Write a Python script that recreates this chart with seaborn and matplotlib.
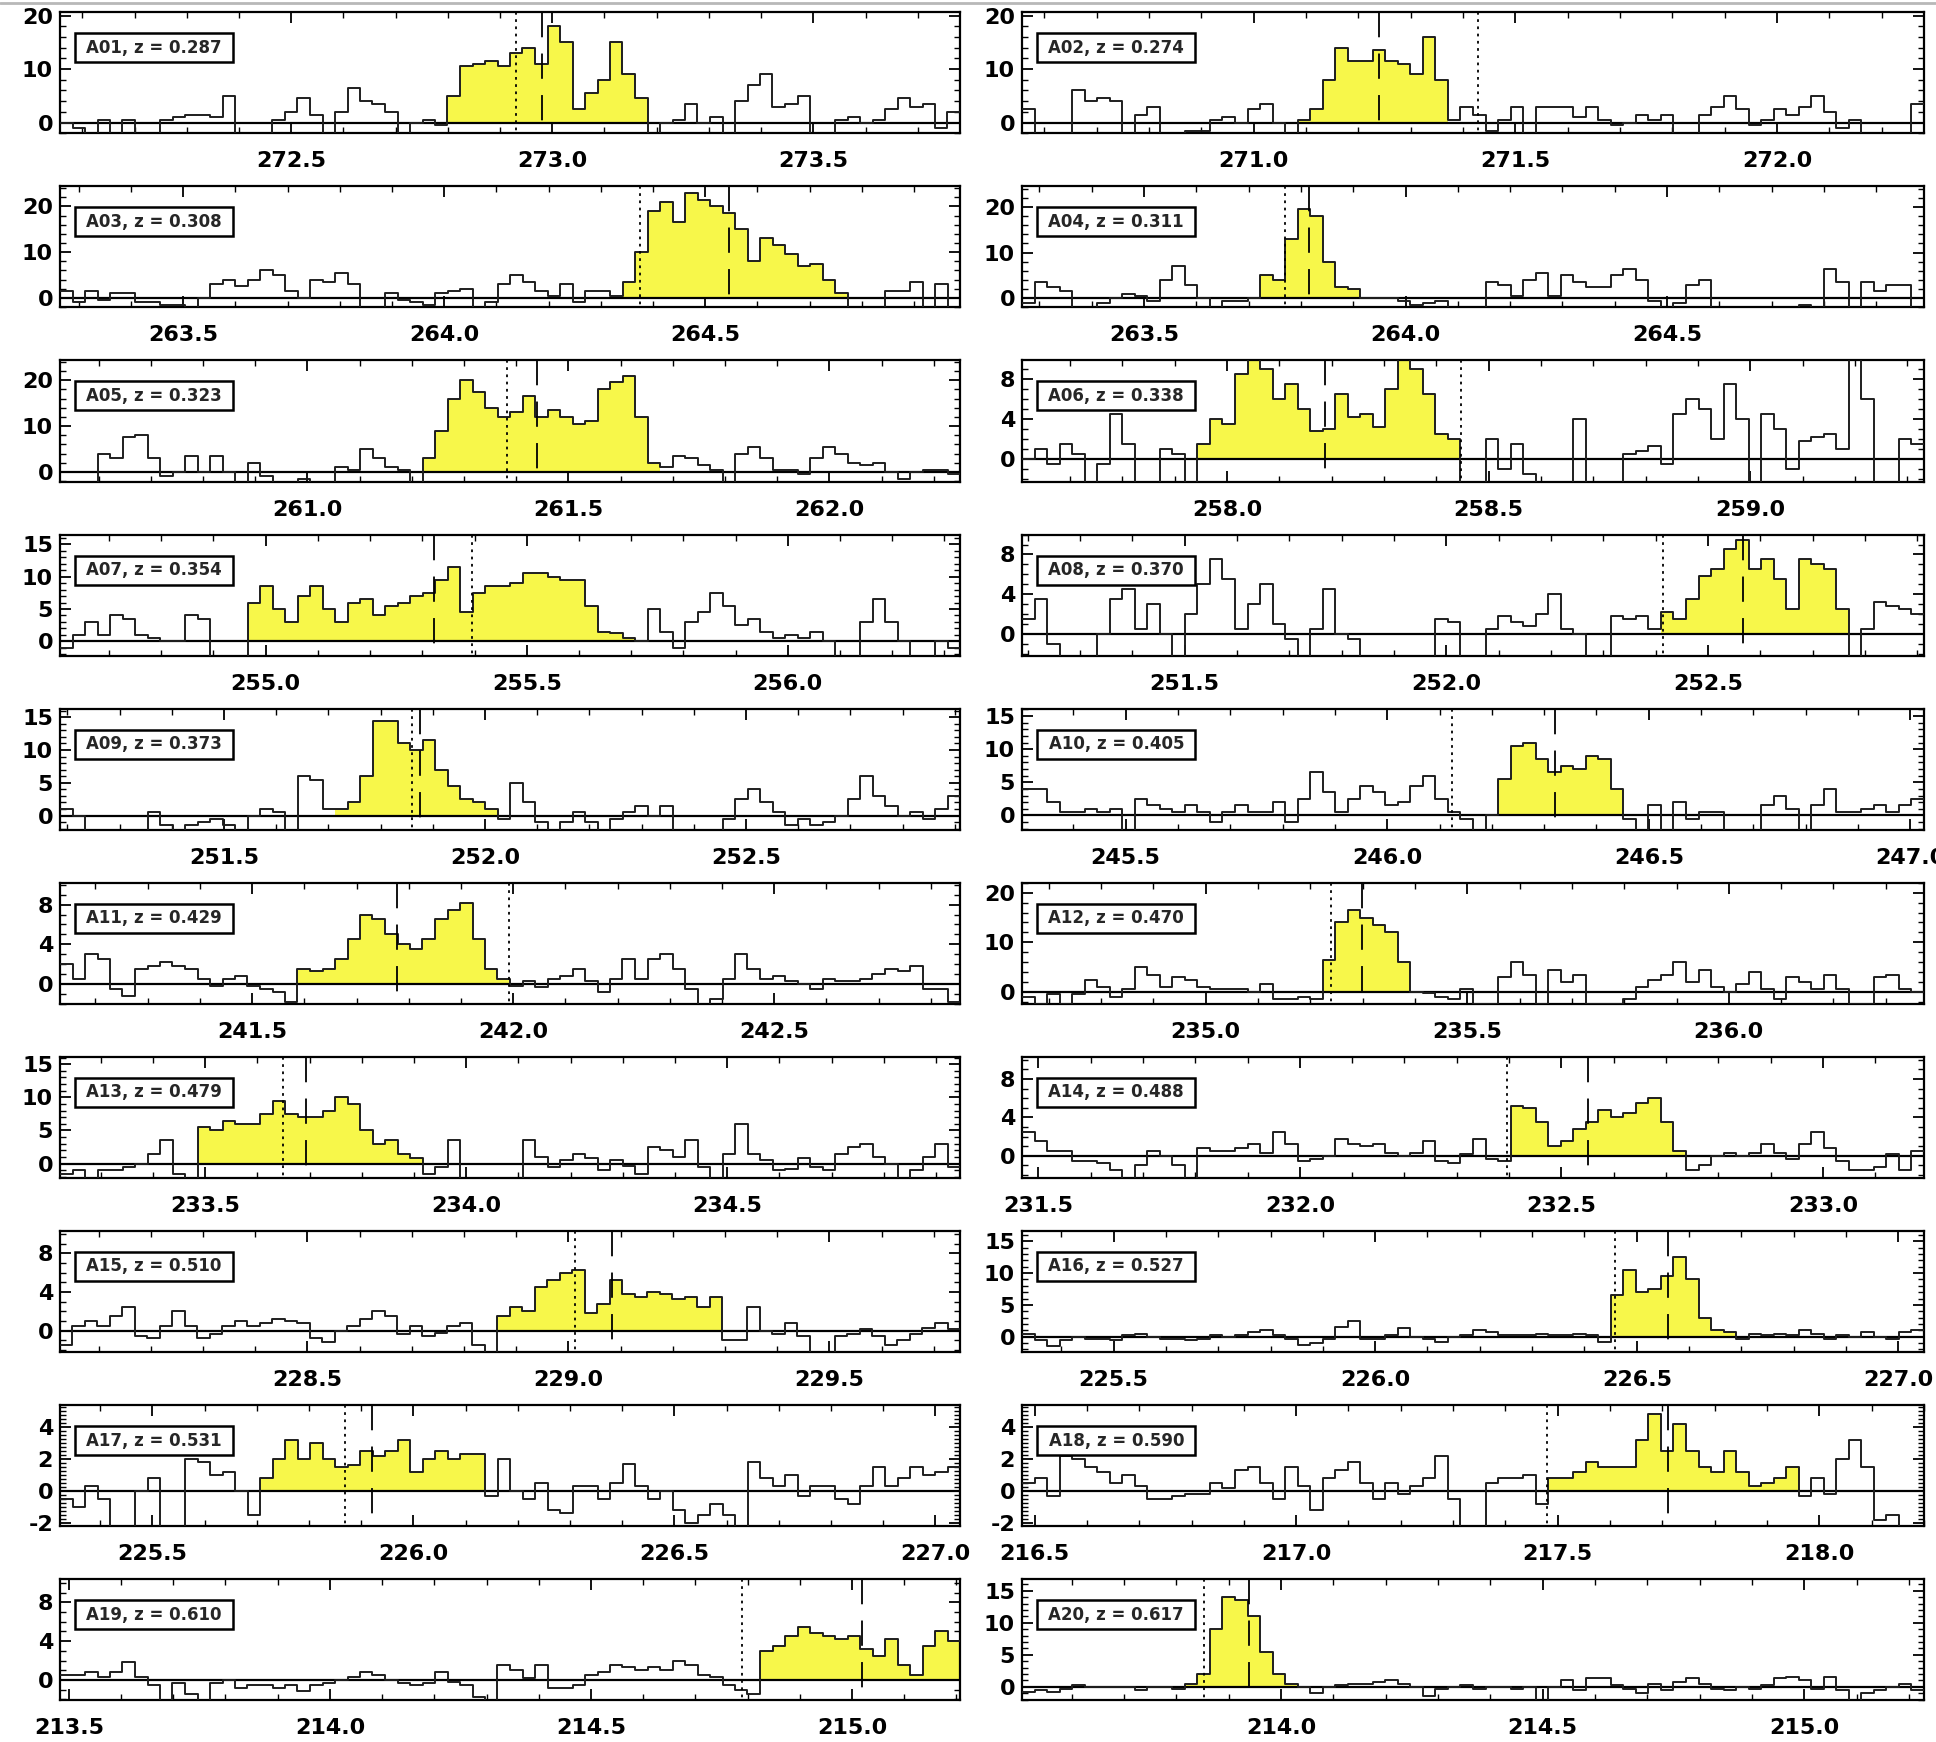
import numpy as np
import pandas as pd
import matplotlib
matplotlib.use("Agg")
import matplotlib.pyplot as plt
import seaborn as sns
from matplotlib.ticker import MultipleLocator, FormatStrFormatter
from matplotlib.patches import Rectangle
from matplotlib.lines import Line2D

sns.set_theme(style="ticks")
plt.rcParams["font.family"] = ["DejaVu Sans"]
plt.rcParams["font.weight"] = "bold"

# ---- source names and redshifts -------------------------------------------
names = ["A01", "A02", "A03", "A04", "A05", "A06", "A07", "A08", "A09", "A10",
         "A11", "A12", "A13", "A14", "A15", "A16", "A17", "A18", "A19", "A20"]
redshifts = [0.287, 0.274, 0.308, 0.311, 0.323, 0.338, 0.354, 0.370, 0.373, 0.405,
             0.429, 0.470, 0.479, 0.488, 0.510, 0.527, 0.531, 0.590, 0.610, 0.617]

# lower frequency edge of each spectrum (GHz); every spectrum covers the same band
freq_start = [272.057, 270.557, 263.264, 263.267, 260.526, 257.608, 254.606, 251.189,
              251.186, 245.302, 241.132, 234.649, 233.222, 231.469, 228.026, 225.325,
              225.323, 216.476, 213.483, 213.505]
band_width = 1.724

# expected line frequency (dotted) and fitted line centre (dashed), GHz
dotted_freq = [272.930, 271.428, 264.375, 263.770, 261.383, 258.447, 255.395, 252.414,
               251.860, 246.123, 241.992, 235.240, 233.650, 232.396, 229.013, 226.459,
               225.868, 217.480, 214.790, 213.853]
dashed_freq = [272.980, 271.240, 264.545, 263.815, 261.440, 258.187, 255.322, 252.568,
               251.875, 246.320, 241.778, 235.298, 233.694, 232.551, 229.083, 226.560,
               225.921, 217.711, 215.020, 213.938]

# channels (first, last) integrated over the line
line_channels = [(31, 46), (22, 33), (45, 62), (19, 26), (29, 47), (14, 34), (15, 45),
                 (51, 65), (22, 34), (38, 47), (19, 35), (24, 30), (11, 28), (39, 52),
                 (35, 52), (47, 56), (16, 33), (42, 61), (56, 71), (13, 22)]

# flux density per channel (mJy)
a01 = [0, -1, -2.5, 0.5, -2.5, 0.5, -2.5, -2.5, 0.5, 1, 1.5, 1.5, 1, 5, -2.5, -2.5, -2.5, 0.5,
       2, 4.5, 1.5, -2.5, 2, 6.5, 4, 3.5, 2, -2.5, 0, 0.5, -0.5, 5, 10.5, 11, 11.5, 10.5, 13,
       14, 11, 18, 15, 2.5, 5.5, 8, 15, 9, 4.5, -2.5, 0, 0.5, 3.5, 0, 1, -2.5, 4, 7, 9, 3, 3.5,
       5, -2.5, -2.5, 0.5, 1, 0, 0.5, 2.5, 4.5, 3, 3.5, -1, 2]
a02 = [2.5, -2.5, -2.5, -2.5, 6, 4, 4.5, 4, -2.5, 1.5, 3, -2.5, -2.5, -1.5, -1.5, 0.5, 1, 0,
       2.5, 3.5, 0, -2.5, 0.5, 2.5, 8, 14, 11.5, 11.5, 13.5, 11.5, 11, 9, 16, 8, 0.5, 3, 1.5,
       -1.5, 0.5, 3, -2.5, 3, 3, 3, 1, 3, 0.5, -0.5, 0, 1.5, 0.5, 1.5, -2.5, -2.5, 1.5, 3, 5,
       2.5, -0.5, 0.5, 2.5, 1.5, 3, 5, 2, -1, 0.5, -2.5, -2.5, -2.5, -2.5, 3.5]
a03 = [1.5, -1, 1.5, -0.5, 1, 1, -1, -1, -1.5, -1.5, -2.5, 0, 3, 4, 2.5, 4, 6, 5, 1.5, 0, 4,
       3.5, 5.5, 3, -2.5, -2.5, 1, -0.5, -1, -1.5, 1, 1.5, 2, -2.5, -1, 3, 5, 3.5, 1.5, 0.5, 3,
       -1, 1.5, 1.5, 0.5, 3.5, 10, 19, 21, 16.5, 23, 21.5, 20, 18.5, 15, 8, 13, 11.5, 9.5, 7,
       7.5, 4, 1, -2.5, -2.5, -2.5, 1.5, 1.5, 3.5, -2.5, 3, -2.5]
a04 = [-1, 3.5, 2.5, 1.5, -2.5, -2.5, -1, 0, 1, 0.5, -0.5, 4, 7, 3, 0, -2.5, -0.5, -0.5, 0, 5,
       4, 13, 19.5, 18, 8, 2.5, 2, 0, 0, 0, -0.5, -1.5, -1, -0.5, -2.5, -2.5, -2.5, 3.5, 3, 0.5,
       4, 5.5, 0.5, 5, 3.5, 2.5, 2.5, 5, 6.5, 4, -0.5, -2.5, -1, 3, 4, -2.5, -2.5, -2.5, -2.5,
       -2.5, -2.5, -2.5, -1.5, -2.5, 6.5, 3.5, -2.5, 3.5, 1.5, 3, 3, -2.5]
a05 = [-2.5, -2.5, -2.5, 4, 3, 7.5, 8, 3, -1, 0, 3.5, 0, 3.5, 0, -2.5, 2, -1, -2.5, -2.5,
       -1.5, -2.5, -2.5, 1, 0.5, 5, 3, 1, 0.5, -2.5, 3, 9, 16, 20, 17.5, 14, 12, 13, 16.5, 12,
       13.5, 12, 10.5, 11, 18, 19.5, 21, 12, 2, 1, 3.5, 3, 1.5, 0.5, -2.5, 4, 5.5, 3, 0.5, 0.5,
       -0.5, 3, 5.5, 4, 2, 1.5, 2, 0, -1.5, 0, 0.5, 0.5, -0.5]
a06 = [0, 1, -0.5, 1.5, 0.5, -2.5, -0.5, 4.5, 1.5, -2.5, -2.5, 1, 0.5, -2.5, 1.5, 4, 3.5, 8.5,
       10.5, 9, 6, 7.5, 5, 2.8, 3, 6.5, 4.2, 4.5, 3.2, 7, 10.5, 9, 6.5, 2.5, 2, -2.5, -2.5, 2,
       -1, 1.5, -1.5, -2.5, -2.5, -2.5, 4, -2.5, -2.5, -2.5, 0.5, 0.8, 1.3, -0.5, 4.5, 6, 5, 2,
       7.5, 4, -2.5, 4.5, 3, -1, 1.8, 2.2, 2.5, 1, 10.5, 6, -2.5, -2.5, 2, 1.5]
a07 = [-1, 1, 3, 1, 4, 3.5, 1, 0.5, 0, 0, 4, 3.5, -2.5, -2.5, -2.5, 6, 8.5, 5, 3, 7, 8.5, 5,
       3, 6, 6.5, 4, 5.5, 6, 7, 7.5, 9.5, 11.5, 4.5, 7.5, 8.5, 8.5, 9, 10.5, 10.5, 10, 9.5, 9.5,
       5.5, 1.5, 1.3, 0.5, 0, 5, 1.5, -1, 3, 4.5, 7.5, 5.5, 2.5, 3.5, 1.5, 0.5, 1, 0.5, 1.5, 0,
       -2.5, -2.5, 3, 6.5, 3, 0, -2.5, -2.5, 0, -1]
a08 = [1.5, 3.5, -1, -2.5, -2.5, -2.5, 0, 3.5, 4.5, 0.5, 3, 0, -2.5, 2, 5, 7.5, 5.5, 0.5, 3, 5,
       1, -0.5, -2.5, 0.5, 4.5, 0, -0.5, -2.5, -2.5, -2.5, -2.5, -2.5, -2.5, 1.5, 1.2, -2.5,
       -2.5, 0.5, 1.8, 1.2, 0.8, 2, 4, 0.5, 0, -2.5, -2.5, 1.8, 1.5, 1.8, 0.5, 2.2, 1.5, 3.5,
       5.8, 6.5, 8.5, 9.5, 6.5, 7.5, 5.5, 2.5, 7.5, 7, 6.5, 2.5, -2.5, 0.5, 3.2, 2.8, 2.5, 2]
a09 = [1, 0, -2.5, -2.5, -2.5, -2.5, -2.5, 0.5, -1.5, -2.5, -1.5, -1, -0.5, -1.5, -2.5, 0, 1,
       0.5, -2.5, 6, 5.5, 1, 1, 2, 6, 14.5, 14.5, 11, 10, 11.5, 7, 4.5, 2.5, 2, 1, -0.5, 5, 2,
       -1, -2.5, -1, 0.5, -1, -2.5, -0.5, 0.5, 1.5, 0, 1.5, -2.5, -2.5, -2.5, -2.5, -0.5, 2.5,
       4, 2, 0.5, -1.5, -0.5, -1.5, -1, 0, 2.5, 6, 3, 1.5, 0, 0.5, -0.5, 1, 3]
a10 = [4, 4, 2, 0.5, 0.5, 1, 0.5, 1, -2.5, 2.5, 1.5, 1, 0.5, 1.5, 0.5, -1, 0.5, 1.5, 0.5, 0.5,
       2, -1, 2.5, 6.5, 3.5, 0.5, 2.5, 4.5, 3.5, 1.5, 2, 4.5, 6, 2.5, 0.5, -0.5, -2.5, 0, 5.5,
       10.5, 11, 8.5, 6.5, 7.5, 7, 9, 8.5, 4, -0.5, -2.5, 1.5, -2.5, 2, -0.5, 0.5, 0.5, -2.5,
       -2.5, -2.5, 1.5, 3, 1, -2.5, 1.5, 4, 0.5, 0.5, 1, 1.5, 0.5, 1.5, 2.5]
a11 = [2, 0.5, 3, 2.5, -0.5, -1.2, 1.5, 1.8, 2.2, 1.8, 1.5, 0.5, -0.2, 0.5, 0.8, -0.2, -0.5,
       -0.8, -1.8, 1.5, 1.3, 1.5, 2.5, 4.5, 7, 6.5, 5, 4, 3.5, 4.5, 6.5, 7.5, 8.2, 4.5, 1.5,
       0.5, -0.2, 0.3, -0.3, 0.5, 0.8, 1.5, 0.3, -0.8, 0.5, 2.5, 0.5, 2.5, 3, 1.5, -0.5, -2.5,
       -1.5, 0.5, 3, 1.5, 0.5, 0.8, 0.3, 0, -0.5, 0.5, 0.3, 0.3, 0.5, 1, 1.5, 1.3, 1.8, -0.5,
       -0.5, -1.8]
a12 = [-1, -2.5, -0.5, -2.5, -0.5, 2.5, 1, -1, 0.5, 5, 3.5, 1, 3, 2.5, 1, 0.5, 0.5, 0.5, 0,
       1.5, -1.5, -1.5, -1, -1.5, 6.5, 14, 16.5, 15, 13.5, 12, 6, 0, -0.3, -1, -1.5, 0.5, -2.5,
       -2.5, 3, 6, 3.5, -2.5, 4.5, 2, 3.5, -2.5, -2.5, -2.5, -1.5, 1, 2.5, 3.5, 6, 2, 4.5, 1,
       0, 1.5, 4, 0.5, -1.5, 3, 2, 0.5, 3.5, 0.5, -2.5, -2.5, 3, 3.5, 0.5, 0]
a13 = [-1.5, -1, -2.5, -1, -1, -0.5, 0, 1.5, 3.5, -1.5, -2.5, 5.5, 5, 6.5, 6, 6, 7.5, 9.5,
       7.5, 7, 7, 8, 10, 9, 5, 3, 3.5, 1.5, 0.8, -1.5, -0.5, 3.5, -2.5, -2.5, -2.5, -2.5, -2.5,
       3.5, 1, -0.5, 0.5, 1.5, 0.8, -1, 0.5, -0.3, -1.5, 2.5, 2, 1, 3.5, -0.5, -2.5, 1.5, 6,
       1.5, 0.5, -1, -0.8, 0.8, -0.5, -1, 1.5, 2.5, 3, 1, 0, -2.5, -1, 1, 3, -0.5]
a14 = [2.5, 1.5, 0.5, 0.5, -0.5, -0.5, -0.8, -1.5, -2.5, -1, 0.5, 0, -1, -2.5, 0.8, 0.5, 0.5,
       0.8, 1.2, 0.3, 2.5, 1.2, -0.5, -0.3, 0, 1.8, 1.2, 1, 1.2, 0.3, 0, 0.3, 1.5, -0.5, -0.8,
       0.2, 1.8, -0.3, -0.5, 5.2, 5, 3.5, 1, 1.5, 2.8, 3.5, 4.8, 4, 4.5, 5.5, 6, 3.5, 0.5,
       -1.5, -1, 0, 0.3, 0, 0.3, 1.2, 0.3, -0.3, 1.2, 2.5, 0.8, -0.5, -1.5, -1.5, -1.2, 0.2,
       -1.5, 0.5]
a15 = [-1.5, 0.5, 1, 0.5, 1.5, 2.5, -0.5, -0.8, 0.5, 2, 0.5, -0.8, -0.3, 0.5, 1, 0.5, 0.8,
       1.2, 1, 0.8, -0.8, -1.2, 0, 0.5, 1.2, 2, 1.5, -0.3, 0.5, -0.5, -0.2, 0.5, 0.8, -1.5,
       -2.5, 1.5, 2.5, 2, 4.5, 5.2, 6, 6.3, 1.8, 2.8, 5.2, 3.8, 3.5, 4, 3.8, 3.3, 3.5, 2.5, 3.5,
       -1, -1, 2.5, 0, -0.3, 0.8, -0.5, -2.5, -2.5, -0.5, -0.3, 0.2, -0.5, -1.5, -1, -0.3, 0.3,
       0.8, 0.2]
a16 = [0.5, -0.5, -1.5, -0.5, 0, -0.3, -0.3, -0.5, 0.3, 0.5, 0, -0.3, -0.3, -0.5, -0.3, 0.3,
       0, 0.3, 0.8, 1, 0.3, -0.3, -1.3, -1, -0.3, 1.5, 2.5, -0.3, -0.3, 0.3, 1.3, 0, -0.3,
       -0.8, 0, 0.3, 1, 0.8, 0.3, 0.3, 0.3, 0.5, 0.3, 0.3, 0.5, 0.3, -0.8, 6.5, 10.5, 7, 7.5,
       9.5, 12.5, 9, 3, 1, 0.8, -0.3, 0.5, 0.3, 0.5, 0.3, 1, 0.5, -0.3, 0.3, 0, 0.8, 0, -0.3,
       0.8, 1]
a17 = [-0.5, -1, 0.3, -0.5, -2.5, -2.5, 0, 0.8, -2.5, -2.5, 2, 1.8, 1, 1.2, 0, -1.5, 0.8, 2,
       3.2, 2, 3, 2, 1.5, 1.6, 2.5, 2.2, 2.5, 3.2, 1.2, 2, 2.5, 2, 2.3, 2.3, -0.3, 2, 0, -0.5,
       0.5, -1.2, -1.4, 0.3, 0.3, -0.5, 0.5, 1.7, 0.3, -0.5, 0, -1.2, -2, -1.5, -0.8, -1.5,
       -2.5, 1.8, 0.8, 0.3, 1, -0.3, 0.3, 0.3, -0.5, -0.8, 0.3, 1.5, 0.3, 0.8, 1.5, 1, 1.2, 1.5]
a18 = [0.5, 0.8, -0.3, 2.2, 2, 1.5, 1.2, 0.5, 1, 0.3, -0.5, -0.5, -0.3, -0.2, -0.2, 0.5, 0.2,
       1.3, 1.5, 0.5, -0.5, 1.5, 0.3, -1.2, 0.8, 1.3, 1.8, 0.5, -0.5, 0.5, -0.2, 0.3, 0.8, 2.2,
       -0.5, -2.5, -2.5, 0.5, 0.8, 0.8, 1, -0.8, 0.8, 0.8, 1.2, 1.8, 1.5, 1.5, 1.5, 3.2, 4.8,
       2.5, 4.2, 2.5, 1.5, 1.2, 2.5, 1.2, 0.3, 0.5, 0.8, 1.5, -0.3, 0.8, -0.2, 2, 3.2, 1.5,
       -1.8, -1.5, -2.5, -2.5]
a19 = [0.5, 0.5, 0.8, 0.3, 0.8, 1.8, 0.3, -0.5, -2.5, -0.3, -1.5, -2.5, -0.3, 0, -0.8, -0.5,
       -0.5, -0.8, -0.5, -1.2, -0.5, -0.3, 0, 0.3, 0.8, 0.5, 0, -0.3, -0.5, -0.3, 0.8, -0.2,
       -0.5, -1.8, -2.5, 1.5, 1, 0.2, 1.5, -0.8, -0.8, -0.5, 0.5, 0.8, 1.5, 1.3, 1, 1.3, 1, 2,
       1.5, 0.5, 0.3, -0.5, -1, -1.5, 3, 3.5, 4.5, 5.5, 4.8, 4.5, 4.2, 4.5, 3.2, 2.5, 4.2, 1.5,
       0.5, 3.5, 5, 4]
a20 = [-0.8, -0.5, -0.8, -0.3, 0.3, 0, 0, 0, 0, -0.5, 0, 0, -0.3, 0.5, 2, 9, 14, 13.5, 11,
       5.5, 2, 0.5, 0, -1, 0, 0.3, 0.5, 0.5, 0.8, 1, 0.5, 0, -1.5, -0.3, 0, 0.3, -0.3, 0, 0,
       -0.3, 0, -2.5, 0, 1, -0.5, 1.3, 1.3, 0.3, -0.3, -1, 0.5, -0.5, 0.8, 1.3, 0.5, -0.3,
       -0.5, 0, -0.3, 0.3, 1.3, 1.5, 1, -0.3, 1.5, -0.5, -2.5, -1, -0.5, 0, 0.5, -0.5]
spectra = [a01, a02, a03, a04, a05, a06, a07, a08, a09, a10,
           a11, a12, a13, a14, a15, a16, a17, a18, a19, a20]

# flux axis ranges and tick spacing (major, minor)
y_limits = [(-2.0, 20.6), (-2.0, 20.6), (-2.1, 24.4), (-2.0, 24.5), (-2.1, 24.3),
            (-2.2, 9.8), (-2.2, 16.5), (-2.2, 10.0), (-2.15, 16.3), (-2.15, 16.1),
            (-2.0, 10.2), (-2.4, 22.0), (-2.15, 16.1), (-2.3, 10.3), (-2.2, 10.3),
            (-2.4, 16.6), (-2.2, 5.35), (-2.2, 5.35), (-2.1, 10.4), (-2.1, 16.8)]
y_steps = [(10, 2), (10, 2), (10, 2), (10, 2), (10, 2), (4, 1), (5, 1), (4, 1), (5, 1),
           (5, 1), (4, 1), (10, 2), (5, 1), (4, 1), (4, 1), (5, 1), (2, 0.25), (2, 0.25),
           (4, 1), (5, 1)]

YELLOW = "#f7f74a"
W, H = 1936, 1742
fig = plt.figure(figsize=(W / 100, H / 100), dpi=100)
fig.patch.set_facecolor("white")
fig.add_artist(Line2D([0, 1], [0.9985, 0.9985], color="#b8b8b8", lw=2))

col_left = [60 / W, 1022 / W]
col_width = [900 / W, 902 / W]
panel_h = 121 / H

for i, name in enumerate(names):
    row, col = divmod(i, 2)
    top_px = 12.3 + 174.1 * row
    ax = fig.add_axes([col_left[col], 1 - (top_px + 121) / H, col_width[col], panel_h])

    vals = np.asarray(spectra[i], dtype=float)
    n = len(vals)
    edges = freq_start[i] + band_width * np.arange(n + 1) / n
    yext = np.append(vals, vals[-1])
    df = pd.DataFrame({"freq": edges, "flux": yext})

    lo, hi = line_channels[i]
    ax.fill_between(edges[lo:hi + 2], yext[lo:hi + 2], 0, step="post",
                    color=YELLOW, lw=0, zorder=1)
    ax.axhline(0, color="black", lw=1.6, zorder=2)
    sns.lineplot(data=df, x="freq", y="flux", drawstyle="steps-post", color="#1e1e1e",
                 lw=1.4, errorbar=None, sort=False, ax=ax, zorder=3)

    trans = ax.get_xaxis_transform()
    ax.plot([dotted_freq[i]] * 2, [1, 0], transform=trans, color="black", lw=1.3,
            ls=(0, (1.5, 2.5)), zorder=4)
    ax.plot([dashed_freq[i]] * 2, [1, 0], transform=trans, color="black", lw=1.3,
            ls=(0, (14, 9)), zorder=4)

    ax.add_patch(Rectangle((0.017, 0.587), 0.175, 0.24, transform=ax.transAxes,
                           facecolor="white", edgecolor="black", lw=1.8, zorder=5))
    ax.text(0.1045, 0.707, f"{name}, z = {redshifts[i]:.3f}", transform=ax.transAxes,
            ha="center", va="center", fontsize=12, fontweight="bold", zorder=6)

    ax.set_xlim(freq_start[i], freq_start[i] + band_width)
    ax.set_ylim(*y_limits[i])
    ax.set_xlabel("")
    ax.set_ylabel("")
    ax.xaxis.set_major_locator(MultipleLocator(0.5))
    ax.xaxis.set_minor_locator(MultipleLocator(0.1))
    ax.xaxis.set_major_formatter(FormatStrFormatter("%.1f"))
    ax.yaxis.set_major_locator(MultipleLocator(y_steps[i][0]))
    ax.yaxis.set_minor_locator(MultipleLocator(y_steps[i][1]))
    ax.yaxis.set_major_formatter(FormatStrFormatter("%d"))
    ax.tick_params(which="both", direction="in", top=True, right=True, colors="black")
    ax.tick_params(which="major", length=8, width=1.3, labelsize=16)
    ax.tick_params(which="minor", length=4, width=1.0)
    ax.tick_params(axis="x", which="major", pad=13)
    ax.tick_params(axis="y", which="major", pad=5)
    for sp in ax.spines.values():
        sp.set_linewidth(1.6)
        sp.set_color("black")
    ax.set_facecolor("white")

fig.savefig("out.png", dpi=100, facecolor="white")
